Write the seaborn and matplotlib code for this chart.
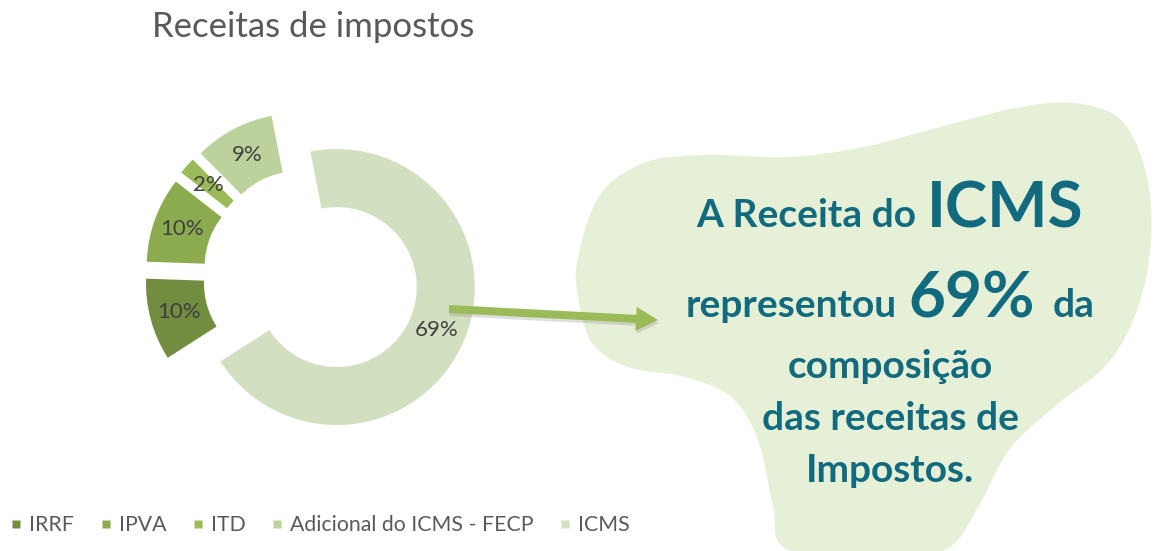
import numpy as np
import matplotlib
matplotlib.use('Agg')
import matplotlib.pyplot as plt
import matplotlib.patches as mpatches
from matplotlib.lines import Line2D
import seaborn as sns

# ---------------- data ----------------
categories = ['IRRF', 'IPVA', 'ITD', 'Adicional do ICMS - FECP', 'ICMS']
shares = [9.6, 10.0, 2.0, 9.4, 69.0]
slice_colors = ['#728C40', '#8CAA4E', '#9BBB59', '#BCD19B', '#D2DFC0']
title_text = 'Receitas de impostos'
callout_lines = [
    [('A Receita do', 'small'), ('ICMS', 'big')],
    [('representou', 'small'), ('69%', 'big'), ('da', 'small')],
    [('composição', 'small')],
    [('das receitas de', 'small')],
    [('Impostos.', 'small')],
]

# ---------------- style ----------------
sns.set_theme(style='white')
plt.rcParams['font.family'] = ['Lato', 'DejaVu Sans']
palette = sns.color_palette(slice_colors)

W, H = 1154, 551
fig = plt.figure(figsize=(W / 100, H / 100), dpi=100)
ax = fig.add_axes([0, 0, 1, 1])

# ---------------- background blob ----------------
blob_pts = [(578, 257), (600, 195), (644, 163), (704, 155), (788, 157), (864, 147),
            (940, 127), (1016, 108), (1073, 103), (1121, 120), (1146, 173), (1151, 240),
            (1138, 307), (1108, 363), (1054, 407), (1009, 450), (978, 507), (945, 550),
            (865, 565), (785, 548), (773, 507), (758, 440), (731, 397), (685, 377),
            (628, 367), (592, 343), (578, 297)]
P = np.array([(x, H - y) for x, y in blob_pts], dtype=float)
n = len(P)
curve = []
for i in range(n):
    p0, p1, p2, p3 = P[(i - 1) % n], P[i], P[(i + 1) % n], P[(i + 2) % n]
    for t in np.linspace(0, 1, 16, endpoint=False):
        t2, t3 = t * t, t * t * t
        pt = 0.5 * ((2 * p1) + (-p0 + p2) * t + (2 * p0 - 5 * p1 + 4 * p2 - p3) * t2
                    + (-p0 + 3 * p1 - 3 * p2 + p3) * t3)
        curve.append(pt)
ax.add_patch(mpatches.Polygon(np.array(curve), closed=True, facecolor='#E5F0D7',
                              edgecolor='none', zorder=0))

# ---------------- donut ----------------
cx, cy = 311, H - 276
R = 138
wedges, _, autotexts = ax.pie(
    shares, colors=palette, startangle=212.6, counterclock=False,
    radius=R, center=(cx, cy), explode=[28] * len(shares),
    wedgeprops=dict(width=58, edgecolor='none'),
    autopct='%.0f%%', pctdistance=0.79,
    textprops=dict(color='#404040', fontsize=16), frame=False)
for w in wedges:
    w.set_zorder(2)
for t in autotexts:
    t.set_zorder(3)

ax.set_xlim(0, W)
ax.set_ylim(0, H)
ax.set_aspect('equal')
ax.axis('off')

# ---------------- arrow ----------------
x0, y0, x1, y1 = 449, H - 309, 658, H - 320
ax.add_patch(mpatches.FancyArrow(x0 + 1, y0 - 3, x1 - x0, y1 - y0, width=8, head_width=24,
                                 head_length=22, length_includes_head=True,
                                 color='#7f7f7f', alpha=0.25, lw=0, zorder=4))
ax.add_patch(mpatches.FancyArrow(x0, y0, x1 - x0, y1 - y0, width=8, head_width=24,
                                 head_length=22, length_includes_head=True,
                                 color='#9BBB59', lw=0, zorder=5))

# ---------------- title ----------------
ax.text(152, H - 37, title_text, fontsize=25, color='#595959', va='baseline', ha='left')

# ---------------- callout text ----------------
teal = '#116A7E'
sizes = {'small': 28, 'big': 46}
baselines = [227, 317, 378, 430, 482]
gaps = [[10], [12, 18], [], [], []]
renderer = fig.canvas.get_renderer()
for pieces, yb, gp in zip(callout_lines, baselines, gaps):
    texts = [ax.text(0, H - yb, s, fontsize=sizes[k], fontweight='bold', color=teal,
                     ha='left', va='baseline', zorder=6) for s, k in pieces]
    widths = [t.get_window_extent(renderer).width for t in texts]
    total = sum(widths) + sum(gp)
    x = 890 - total / 2
    for j, (t, wd) in enumerate(zip(texts, widths)):
        t.set_x(x)
        x += wd + (gp[j] if j < len(gp) else 0)

# ---------------- legend ----------------
handles = [Line2D([], [], marker='s', linestyle='none', markersize=6,
                  markerfacecolor=c, markeredgecolor='none') for c in palette]
fig.legend(handles, categories, ncol=5, loc='center left',
           bbox_to_anchor=(11 / W, 1 - 525 / H), frameon=False, fontsize=15.3,
           handlelength=0.5, handletextpad=0.35, columnspacing=1.25,
           borderpad=0, borderaxespad=0, labelcolor='#595959')

fig.savefig('out.png', dpi=100)
